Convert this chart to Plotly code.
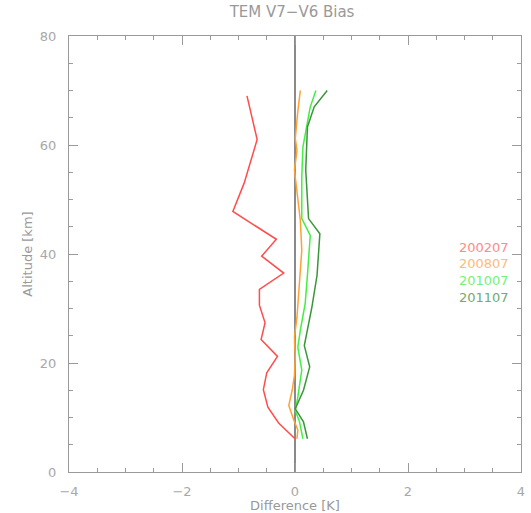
import plotly.graph_objects as go

# 200207 (red)
alt_200207 = [6.1, 9.0, 11.9, 15.1, 18.2, 21.2, 24.3, 27.4, 30.6, 33.5, 36.5, 39.6, 42.7, 47.8, 53.0, 61.0, 69.0]
dif_200207 = [0.0, -0.29, -0.48, -0.56, -0.50, -0.31, -0.60, -0.53, -0.63, -0.63, -0.20, -0.59, -0.33, -1.10, -0.90, -0.67, -0.85]

# 200807 (orange)
alt_200807 = [6.1, 7.7, 9.5, 12.2, 15.0, 17.7, 21.1, 24.8, 28.4, 34.6, 40.7, 46.2, 53.5, 55.4, 59.0, 61.2, 65.8, 70.0]
dif_200807 = [0.035, 0.05, -0.02, -0.11, -0.05, -0.01, 0.005, -0.01, 0.035, 0.076, 0.12, 0.094, 0.02, -0.01, 0.035, 0.005, 0.046, 0.094]

# 201007 (light green)
alt_201007 = [6.1, 9.2, 11.3, 13.5, 18.7, 22.9, 26.0, 30.9, 36.1, 43.4, 46.5, 54.1, 59.6, 63.9, 67.0, 70.0]
dif_201007 = [0.14, 0.08, 0.005, 0.046, 0.12, 0.05, 0.094, 0.18, 0.22, 0.27, 0.12, 0.12, 0.14, 0.22, 0.27, 0.37]

# 201107 (dark green)
alt_201107 = [6.1, 9.2, 11.6, 15.0, 19.3, 23.2, 30.3, 36.1, 43.7, 46.5, 55.4, 63.3, 67.0, 70.0]
dif_201107 = [0.22, 0.15, 0.005, 0.15, 0.26, 0.165, 0.30, 0.39, 0.44, 0.24, 0.19, 0.22, 0.34, 0.57]

series = [
    ("200207", dif_200207, alt_200207, "#ff4d4d", "#ff8a8a"),
    ("200807", dif_200807, alt_200807, "#ffa033", "#ffbb77"),
    ("201007", dif_201007, alt_201007, "#44ee44", "#77f077"),
    ("201107", dif_201107, alt_201107, "#3a963a", "#70ab70"),
]

fig = go.Figure()
for name, x, y, col, tcol in series:
    fig.add_trace(go.Scatter(x=x, y=y, mode="lines", name=name,
                             line=dict(color=col, width=1.5)))

label_y = [41.2, 38.2, 35.1, 32.0]
for (name, x, y, col, tcol), ly in zip(series, label_y):
    fig.add_annotation(x=3.82, y=ly, text=name, showarrow=False,
                       xanchor="right", yanchor="middle",
                       font=dict(color=tcol, size=13, family="DejaVu Sans"))

axis_common = dict(
    showgrid=False, showline=True, linecolor="#9a9a9a", linewidth=1.2,
    mirror="allticks", ticks="inside", tickcolor="#9a9a9a", automargin=False,
    tickfont=dict(color="#a8a8a8", size=13, family="DejaVu Sans"),
)

fig.update_xaxes(range=[-4, 4], tickvals=[-4, -2, 0, 2, 4],
                 ticktext=["\u22124", "\u22122", "0", "2", "4"],
                 ticklen=9, ticklabelstandoff=7,
                 zeroline=True, zerolinecolor="#8a8a8a", zerolinewidth=1.5,
                 minor=dict(dtick=0.5, ticks="inside", ticklen=4, tickcolor="#9a9a9a"),
                 title=dict(text="Difference [K]", standoff=0,
                            font=dict(color="#999999", size=13, family="DejaVu Sans")),
                 **axis_common)
fig.update_yaxes(range=[0, 80], tickvals=[0, 20, 40, 60, 80],
                 ticklen=9, ticklabelstandoff=9, zeroline=False,
                 minor=dict(dtick=5, ticks="inside", ticklen=4, tickcolor="#9a9a9a"),
                 title=dict(text="Altitude [km]", standoff=4,
                            font=dict(color="#999999", size=13, family="DejaVu Sans")),
                 **axis_common)

fig.update_layout(
    width=531, height=513,
    margin=dict(l=69, r=10, t=36, b=41),
    paper_bgcolor="white", plot_bgcolor="white",
    showlegend=False,
    title=dict(text="TEM V7\u2212V6 Bias", x=0.55, xanchor="center", y=0.977, yanchor="middle",
               font=dict(color="#999999", size=15, family="DejaVu Sans")),
)

fig.write_html("out.html")
